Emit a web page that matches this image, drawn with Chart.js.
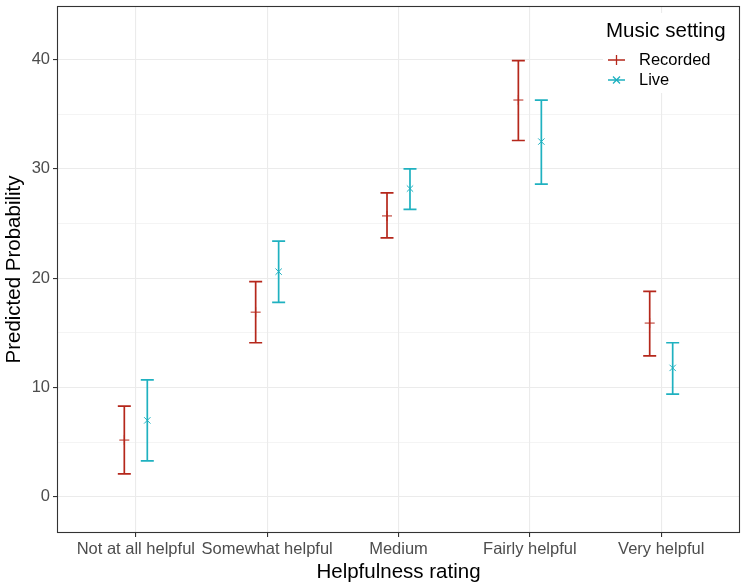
<!DOCTYPE html>
<html>
<head>
<meta charset="utf-8">
<script src="https://cdn.jsdelivr.net/npm/chart.js@4.4.1/dist/chart.umd.min.js"></script>
<style>
  html, body { margin: 0; padding: 0; background: #fff; }
  #wrap { width: 750px; height: 585px; }
</style>
</head>
<body>
<div id="wrap"><canvas id="chart" width="750" height="585"></canvas></div>
<script>
const categories = ['Not at all helpful', 'Somewhat helpful', 'Medium', 'Fairly helpful', 'Very helpful'];
const recordedMean = [5.2, 16.9, 25.7, 36.3, 15.9];
const recordedLow = [2.1, 14.1, 23.7, 32.6, 12.9];
const recordedHigh = [8.3, 19.7, 27.8, 39.9, 18.8];
const liveMean = [7.0, 20.6, 28.2, 32.5, 11.8];
const liveLow = [3.3, 17.8, 26.3, 28.6, 9.4];
const liveHigh = [10.7, 23.4, 30.0, 36.3, 14.1];
const yTickLabels = [0, 10, 20, 30, 40];

const RED = '#b5271b';
const CYAN = '#1fb1c0';
const FONT = '"Liberation Sans", Arial, sans-serif';
const dodge = 0.0875;

function toPoints(mean, lo, hi, shift) {
    return mean.map((v, i) => ({ x: i + shift, y: v, lo: lo[i], hi: hi[i] }));
}

// error bars drawn from the scales
const errorBars = {
    id: 'errorBars',
    beforeDatasetsDraw(chart) {
        const ctx = chart.ctx;
        const xs = chart.scales.x, ys = chart.scales.y;
        chart.data.datasets.forEach(ds => {
            ctx.save();
            ctx.strokeStyle = ds.borderColor;
            ctx.lineWidth = 1.7;
            ds.data.forEach(d => {
                const px = xs.getPixelForValue(d.x);
                const top = ys.getPixelForValue(d.hi);
                const bot = ys.getPixelForValue(d.lo);
                ctx.beginPath();
                ctx.moveTo(px, top); ctx.lineTo(px, bot);
                ctx.moveTo(px - 6.5, top); ctx.lineTo(px + 6.5, top);
                ctx.moveTo(px - 6.5, bot); ctx.lineTo(px + 6.5, bot);
                ctx.stroke();
            });
            ctx.restore();
        });
    }
};

// panel border, axis titles, legend
const decor = {
    id: 'decor',
    afterDraw(chart) {
        const ctx = chart.ctx;
        const a = chart.chartArea;
        ctx.save();
        ctx.strokeStyle = '#333333';
        ctx.lineWidth = 1.1;
        ctx.strokeRect(a.left + 0.5, a.top + 0.5, a.right - a.left - 1, a.bottom - a.top - 1);

        ctx.fillStyle = '#000';
        ctx.font = '20.5px ' + FONT;
        ctx.textAlign = 'center';
        ctx.textBaseline = 'middle';
        ctx.fillText('Helpfulness rating', (a.left + a.right) / 2, 572);
        ctx.save();
        ctx.translate(14, (a.top + a.bottom) / 2);
        ctx.rotate(-Math.PI / 2);
        ctx.fillText('Predicted Probability', 0, 0);
        ctx.restore();

        // legend
        ctx.fillStyle = '#fff';
        ctx.fillRect(603, 13, 135, 80);
        ctx.fillStyle = '#000';
        ctx.textAlign = 'left';
        ctx.font = '20.5px ' + FONT;
        ctx.fillText('Music setting', 606, 31);
        ctx.font = '16.5px ' + FONT;
        const items = [['Recorded', RED, 60, 'plus'], ['Live', CYAN, 80, 'x']];
        items.forEach(([label, col, y, mark]) => {
            ctx.strokeStyle = col;
            ctx.lineWidth = 1.3;
            ctx.beginPath();
            ctx.moveTo(608, y); ctx.lineTo(625, y);
            if (mark === 'plus') {
                ctx.moveTo(616.5, y - 5); ctx.lineTo(616.5, y + 5);
            } else {
                ctx.moveTo(613, y - 3.5); ctx.lineTo(620, y + 3.5);
                ctx.moveTo(613, y + 3.5); ctx.lineTo(620, y - 3.5);
            }
            ctx.stroke();
            ctx.fillStyle = '#000';
            ctx.fillText(label, 639, y);
        });
        ctx.restore();
    }
};

new Chart(document.getElementById('chart'), {
    type: 'scatter',
    data: {
        datasets: [
            {
                label: 'Recorded',
                data: toPoints(recordedMean, recordedLow, recordedHigh, -dodge),
                borderColor: RED,
                backgroundColor: RED,
                pointStyle: 'cross',
                pointRadius: 5,
                pointBorderWidth: 1
            },
            {
                label: 'Live',
                data: toPoints(liveMean, liveLow, liveHigh, dodge),
                borderColor: CYAN,
                backgroundColor: CYAN,
                pointStyle: 'crossRot',
                pointRadius: 4.5,
                pointBorderWidth: 1
            }
        ]
    },
    options: {
        responsive: false,
        animation: false,
        layout: { padding: { top: 5, right: 10, left: 0, bottom: 0 } },
        plugins: { legend: { display: false }, tooltip: { enabled: false } },
        scales: {
            x: {
                type: 'linear',
                min: -0.6,
                max: 4.6,
                afterFit: s => { s.height = 52; s.paddingLeft = 0; s.paddingRight = 0; },
                border: { display: false },
                grid: { color: '#ebebeb', lineWidth: 1.1, tickLength: 4, tickColor: '#333333' },
                ticks: {
                    stepSize: 1,
                    includeBounds: false,
                    autoSkip: false,
                    maxRotation: 0,
                    padding: 3,
                    color: '#4d4d4d',
                    font: { size: 16.5, family: FONT },
                    callback: v => categories[v] ?? ''
                }
            },
            y: {
                min: -3.3,
                max: 44.9,
                afterFit: s => { s.width = 57; s.paddingTop = 0; s.paddingBottom = 0; },
                border: { display: false },
                grid: {
                    color: '#ebebeb',
                    lineWidth: c => (c.tick && c.tick.value % 10 === 0) ? 1.1 : 0.55,
                    tickLength: 4,
                    tickColor: c => (c.tick && c.tick.value % 10 === 0) ? '#333333' : 'rgba(0,0,0,0)'
                },
                ticks: {
                    stepSize: 5,
                    includeBounds: false,
                    autoSkip: false,
                    padding: 3,
                    color: '#4d4d4d',
                    font: { size: 16.5, family: FONT },
                    callback: v => yTickLabels.includes(v) ? String(v) : ''
                }
            }
        }
    },
    plugins: [errorBars, decor]
});
</script>
</body>
</html>
